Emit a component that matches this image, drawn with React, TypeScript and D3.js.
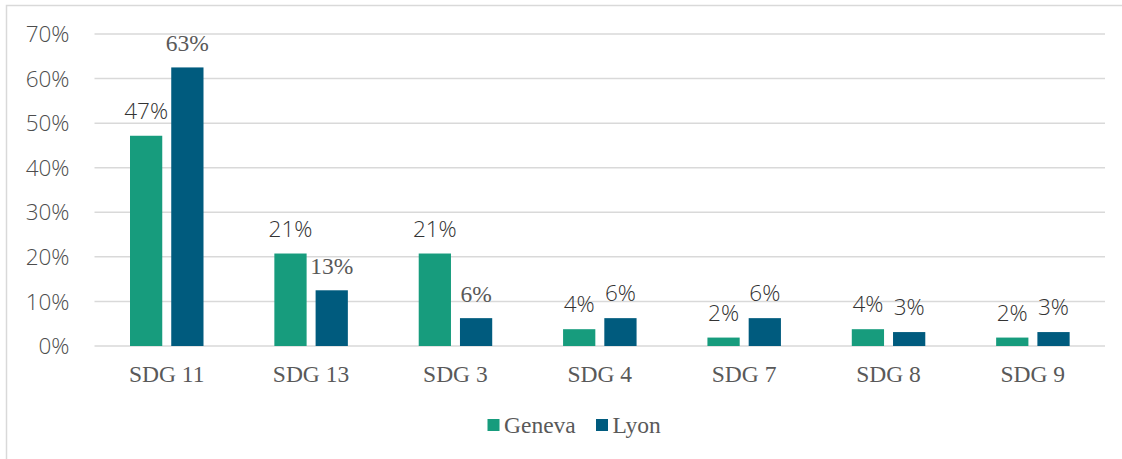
import React from "react";
import * as d3 from "d3";

const categories = ["SDG 11", "SDG 13", "SDG 3", "SDG 4", "SDG 7", "SDG 8", "SDG 9"];
const series = ["Geneva", "Lyon"];
const genevaValues = [47.17, 20.75, 20.75, 3.77, 1.89, 3.77, 1.89];
const lyonValues = [62.5, 12.5, 6.25, 6.25, 6.25, 3.125, 3.125];
const yTicks = [0, 10, 20, 30, 40, 50, 60, 70];
// which Lyon labels render in the serif face (as in the reference)
const lyonSerifLabel = [true, true, true, false, false, false, false];

const colors: Record<string, string> = { Geneva: "#179C7D", Lyon: "#005B7E" };
const SANS = "'Open Sans', 'Noto Sans', sans-serif";
const SERIF = "'Liberation Serif', 'Times New Roman', serif";

export default function App() {
  const W = 1122, H = 459;
  const left = 94.5, right = 1105, top = 34, bottom = 346;
  const x0 = d3.scaleBand<string>().domain(categories).range([left, right]).paddingInner(0).paddingOuter(0);
  const x1 = d3.scaleBand<string>().domain(series).range([35.5, 35.5 + 73.5]).paddingInner(0.218).paddingOuter(0);
  const y = d3.scaleLinear().domain([0, 70]).range([bottom, top]);
  const valuesBySeries: Record<string, number[]> = { Geneva: genevaValues, Lyon: lyonValues };

  return (
    <svg width={W} height={H} style={{ position: "absolute", left: 0, top: 0, background: "#fff" }}>
      <rect x={6.5} y={5.5} width={1300} height={600} fill="none" stroke="#d9d9d9" strokeWidth={1.5} />
      {yTicks.map((t) => (
        <g key={t}>
          <line x1={left} x2={right} y1={y(t)} y2={y(t)} stroke="#d9d9d9" strokeWidth={1.5} />
          <text x={69.5} y={y(t)} dy="0.36em" textAnchor="end" fontFamily={SANS} fontWeight={300} fontSize={22.5} fill="#4d4d4d">
            {t}%
          </text>
        </g>
      ))}
      {categories.map((c, i) => (
        <g key={c} transform={`translate(${x0(c)},0)`}>
          {series.map((s) => {
            const v = valuesBySeries[s][i];
            const bx = x1(s)!;
            const bw = x1.bandwidth();
            const serif = s === "Lyon" && lyonSerifLabel[i];
            return (
              <g key={s}>
                <rect x={bx} y={y(v)} width={bw} height={y(0) - y(v)} fill={colors[s]} />
                <text
                  x={bx + bw / 2}
                  y={y(v) - (serif ? 16 : 17)}
                  textAnchor="middle"
                  fontFamily={serif ? SERIF : SANS}
                  fontWeight={serif ? "normal" : 300}
                  fontSize={serif ? 23.5 : 22.5}
                  fill={serif ? "#595959" : "#333333"}
                >
                  {Math.round(v)}%
                </text>
              </g>
            );
          })}
          <text x={x0.bandwidth() / 2} y={382} textAnchor="middle" fontFamily={SERIF} fontSize={23.5} fill="#595959">
            {c}
          </text>
        </g>
      ))}
      <g>
        <rect x={487.5} y={419} width={12} height={12} fill={colors.Geneva} />
        <text x={504} y={432.5} fontFamily={SERIF} fontSize={23.5} fill="#595959">Geneva</text>
        <rect x={596} y={419} width={12} height={12} fill={colors.Lyon} />
        <text x={612.5} y={432.5} fontFamily={SERIF} fontSize={23.5} fill="#595959">Lyon</text>
      </g>
    </svg>
  );
}
